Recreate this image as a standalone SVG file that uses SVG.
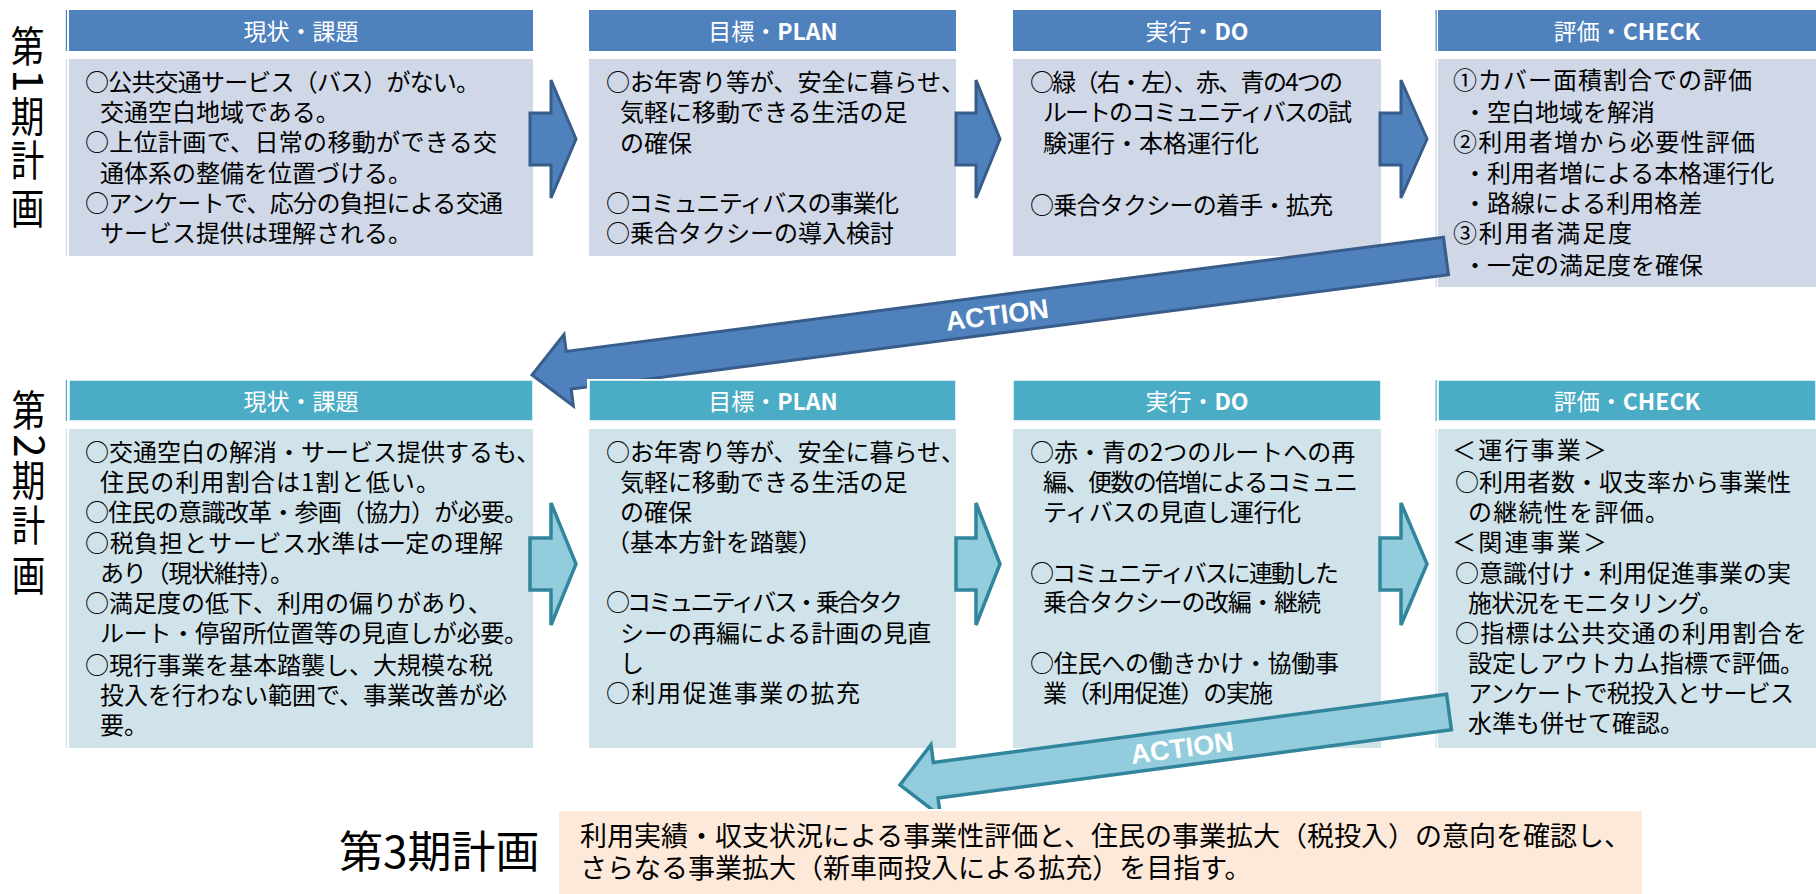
<svg xmlns="http://www.w3.org/2000/svg" width="1816" height="894" viewBox="0 0 1816 894">
<style>
.h1{fill:#4F81BD}
.b1{fill:#D0D8E8}
.h2{fill:#4BACC6;stroke:#fff;stroke-width:1.5}
.b2{fill:#D0E3EA}
.pe{fill:#FDE9D9}
.ht{fill:#fff;font-family:"Noto Sans CJK JP","Noto Sans",sans-serif;font-size:23px;text-anchor:middle}
.ht tspan{font-weight:bold}
.t{fill:#000;font-family:"Noto Sans CJK JP",sans-serif;font-size:24px}
.lbl{fill:#000;font-family:"Noto Sans CJK JP",sans-serif;font-size:44px}
.vc{fill:#000;font-family:"Noto Sans CJK JP",sans-serif;font-size:42px;text-anchor:middle}
.a1{fill:#4F81BD;stroke:#385D8A;stroke-width:3;stroke-linejoin:miter}
.a2{fill:#93CDDD;stroke:#31859C;stroke-width:3.5;stroke-linejoin:miter}
.act{fill:#fff;font-family:"Liberation Sans",Arial,sans-serif;font-weight:bold;font-size:27px;text-anchor:middle}
</style>
<defs>
<clipPath id="clipA1"><rect x="0" y="0" width="1816" height="379"/><rect x="0" y="0" width="587" height="894"/></clipPath>
<clipPath id="clipA2"><rect x="0" y="0" width="1816" height="809"/><rect x="0" y="0" width="558" height="894"/><rect x="1643" y="0" width="173" height="894"/></clipPath>
</defs>
<rect width="1816" height="894" fill="#fff"/>

<!-- Labels -->
<g id="label-phase1">
<text class="vc" transform="translate(27.5 61.5) scale(0.8 1)">第</text>
<text class="vc" transform="translate(27.5 81) rotate(90)" y="15">1</text>
<text class="vc" transform="translate(27.5 132) scale(0.8 1)">期</text>
<text class="vc" transform="translate(27.5 176) scale(0.8 1)">計</text>
<text class="vc" transform="translate(27.5 224) scale(0.8 1)">画</text>
</g>
<g id="label-phase2">
<text class="vc" transform="translate(28.5 426) scale(0.8 1)">第</text>
<text class="vc" transform="translate(28.5 446) rotate(90)" y="15">2</text>
<text class="vc" transform="translate(28.5 496) scale(0.8 1)">期</text>
<text class="vc" transform="translate(28.5 541) scale(0.8 1)">計</text>
<text class="vc" transform="translate(28.5 591) scale(0.8 1)">画</text>
</g>
<g id="label-phase3">
<text class="lbl" x="339" y="868">第3期計画</text>
</g>

<!-- Row 1 -->
<g id="p1-genjo">
<rect class="h1" x="65.8" y="10" width="1.2" height="41"/>
<rect class="h1" x="69" y="10" width="464" height="41"/>
<rect class="b1" x="65.8" y="59" width="1.2" height="197"/>
<rect class="b1" x="69" y="59" width="464" height="197"/>
<text class="ht" x="301" y="40">現状・課題</text>
<text class="t" x="85" y="91" textLength="395">○公共交通サービス（バス）がない。</text>
<text class="t" x="100" y="121">交通空白地域である。</text>
<text class="t" x="85" y="151" textLength="412">○上位計画で、日常の移動ができる交</text>
<text class="t" x="100" y="182">通体系の整備を位置づける。</text>
<text class="t" x="85" y="212" textLength="418">○アンケートで、応分の負担による交通</text>
<text class="t" x="100" y="242">サービス提供は理解される。</text>
</g>
<g id="p1-plan">
<rect class="h1" x="589" y="10" width="367" height="41"/>
<rect class="b1" x="589" y="59" width="367" height="197"/>
<text class="ht" x="773" y="40">目標・<tspan>PLAN</tspan></text>
<text class="t" x="606" y="91">○お年寄り等が、安全に暮らせ、</text>
<text class="t" x="620" y="121">気軽に移動できる生活の足</text>
<text class="t" x="620" y="152">の確保</text>
<text class="t" x="606" y="212" textLength="293">○コミュニティバスの事業化</text>
<text class="t" x="606" y="242">○乗合タクシーの導入検討</text>
</g>
<g id="p1-do">
<rect class="h1" x="1013" y="10" width="368" height="41"/>
<rect class="b1" x="1013" y="59" width="368" height="197"/>
<text class="ht" x="1197" y="40">実行・<tspan>DO</tspan></text>
<text class="t" x="1030" y="91" textLength="313">○緑（右・左）、赤、青の4つの</text>
<text class="t" x="1043" y="121" textLength="309">ルートのコミュニティバスの試</text>
<text class="t" x="1043" y="152">験運行・本格運行化</text>
<text class="t" x="1030" y="214" textLength="303">○乗合タクシーの着手・拡充</text>
</g>
<g id="p1-check">
<rect class="h1" x="1435.5" y="10" width="1.2" height="41"/>
<rect class="h1" x="1438" y="10" width="378" height="41"/>
<rect class="b1" x="1435.5" y="59" width="1.2" height="228"/>
<rect class="b1" x="1438" y="59" width="378" height="228"/>
<text class="ht" x="1627" y="40">評価・<tspan>CHECK</tspan></text>
<text class="t" x="1453" y="89" textLength="299">①カバー面積割合での評価</text>
<text class="t" x="1463" y="121">・空白地域を解消</text>
<text class="t" x="1453" y="151" textLength="302">②利用者増から必要性評価</text>
<text class="t" x="1463" y="182">・利用者増による本格運行化</text>
<text class="t" x="1463" y="212">・路線による利用格差</text>
<text class="t" x="1453" y="242" textLength="179">③利用者満足度</text>
<text class="t" x="1463" y="274">・一定の満足度を確保</text>
</g>

<!-- Row 2 -->
<g id="p2-genjo">
<rect x="65.8" y="380" width="1.2" height="41" fill="#4BACC6"/>
<rect class="h2" x="69" y="380" width="464" height="41"/>
<rect class="b2" x="65.8" y="429" width="1.2" height="319"/>
<rect class="b2" x="69" y="429" width="464" height="319"/>
<text class="ht" x="301" y="410">現状・課題</text>
<text class="t" x="85" y="461">○交通空白の解消・サービス提供するも、</text>
<text class="t" x="100" y="491" textLength="340">住民の利用割合は1割と低い。</text>
<text class="t" x="85" y="521" textLength="443">○住民の意識改革・参画（協力）が必要。</text>
<text class="t" x="85" y="552" textLength="418">○税負担とサービス水準は一定の理解</text>
<text class="t" x="100" y="582" textLength="194">あり（現状維持）。</text>
<text class="t" x="85" y="612">○満足度の低下、利用の偏りがあり、</text>
<text class="t" x="100" y="642" textLength="428">ルート・停留所位置等の見直しが必要。</text>
<text class="t" x="85" y="674">○現行事業を基本踏襲し、大規模な税</text>
<text class="t" x="100" y="704">投入を行わない範囲で、事業改善が必</text>
<text class="t" x="100" y="734">要。</text>
</g>
<g id="p2-plan">
<rect class="h2" x="589" y="380" width="367" height="41"/>
<rect class="b2" x="589" y="429" width="367" height="319"/>
<text class="ht" x="773" y="410">目標・<tspan>PLAN</tspan></text>
<text class="t" x="606" y="461">○お年寄り等が、安全に暮らせ、</text>
<text class="t" x="620" y="491">気軽に移動できる生活の足</text>
<text class="t" x="620" y="521">の確保</text>
<text class="t" x="606" y="551">（基本方針を踏襲）</text>
<text class="t" x="606" y="611" textLength="297">○コミュニティバス・乗合タク</text>
<text class="t" x="620" y="642">シーの再編による計画の見直</text>
<text class="t" x="620" y="672">し</text>
<text class="t" x="606" y="702" textLength="254">○利用促進事業の拡充</text>
</g>
<g id="p2-do">
<rect class="h2" x="1013" y="380" width="368" height="41"/>
<rect class="b2" x="1013" y="429" width="368" height="319"/>
<text class="ht" x="1197" y="410">実行・<tspan>DO</tspan></text>
<text class="t" x="1030" y="461">○赤・青の2つのルートへの再</text>
<text class="t" x="1043" y="491" textLength="315">編、便数の倍増によるコミュニ</text>
<text class="t" x="1043" y="521" textLength="258">ティバスの見直し運行化</text>
<text class="t" x="1030" y="582" textLength="309">○コミュニティバスに連動した</text>
<text class="t" x="1043" y="611" textLength="278">乗合タクシーの改編・継続</text>
<text class="t" x="1030" y="672" textLength="309">○住民への働きかけ・協働事</text>
<text class="t" x="1043" y="702" textLength="230">業（利用促進）の実施</text>
</g>
<g id="p2-check">
<rect x="1435.5" y="380" width="1.2" height="41" fill="#4BACC6"/>
<rect class="h2" x="1438" y="380" width="378" height="41"/>
<rect class="b2" x="1435.5" y="429" width="1.2" height="319"/>
<rect class="b2" x="1438" y="429" width="378" height="319"/>
<text class="ht" x="1627" y="410">評価・<tspan>CHECK</tspan></text>
<text class="t" x="1452" y="459" textLength="155">＜運行事業＞</text>
<text class="t" x="1455" y="491">○利用者数・収支率から事業性</text>
<text class="t" x="1468" y="521" textLength="201">の継続性を評価。</text>
<text class="t" x="1452" y="551" textLength="155">＜関連事業＞</text>
<text class="t" x="1455" y="582">○意識付け・利用促進事業の実</text>
<text class="t" x="1468" y="612" textLength="255">施状況をモニタリング。</text>
<text class="t" x="1455" y="642" textLength="352">○指標は公共交通の利用割合を</text>
<text class="t" x="1468" y="672">設定しアウトカム指標で評価。</text>
<text class="t" x="1468" y="702" textLength="326">アンケートで税投入とサービス</text>
<text class="t" x="1468" y="732">水準も併せて確認。</text>
</g>

<!-- Row 3 -->
<g id="p3-plan">
<rect class="pe" x="559" y="811" width="1083" height="83"/>
<text class="t" x="580" y="846" style="font-size:27px">利用実績・収支状況による事業性評価と、住民の事業拡大（税投入）の意向を確認し、</text>
<text class="t" x="580" y="878" style="font-size:27px">さらなる事業拡大（新車両投入による拡充）を目指す。</text>
</g>

<!-- Connectors -->
<g id="connectors">
<polygon class="a1" points="530,113 551,113 551,80 576,139 551,198 551,165 530,165"/>
<polygon class="a1" points="956,113 976,113 976,80 1000,139 976,198 976,165 956,165"/>
<polygon class="a1" points="1380,113 1401,113 1401,80 1427,139 1401,198 1401,165 1380,165"/>
<polygon class="a2" points="530,538 551,538 551,503 576,564 551,625 551,590 530,590"/>
<polygon class="a2" points="956,538 976,538 976,503 1000,564 976,625 976,590 956,590"/>
<polygon class="a2" points="1380,538 1401,538 1401,503 1427,564 1401,625 1401,590 1380,590"/>
<g id="action1" clip-path="url(#clipA1)">
<polygon class="a1" points="1443.5,237.2 566.2,351.4 564,334.5 532,375 573.3,405.9 571.2,389 1448.5,274.8"/>
<text class="act" transform="translate(997 314.5) rotate(-7.42)" y="9.7">ACTION</text>
</g>
<g id="action2" clip-path="url(#clipA2)">
<polygon class="a2" points="1446.6,694.2 933.3,762.5 931,744.6 900,785 940.4,816 938.1,798.1 1451.4,729.8"/>
<text class="act" transform="translate(1182 747.5) rotate(-7.58)" y="9.7">ACTION</text>
</g>
</g>
</svg>
